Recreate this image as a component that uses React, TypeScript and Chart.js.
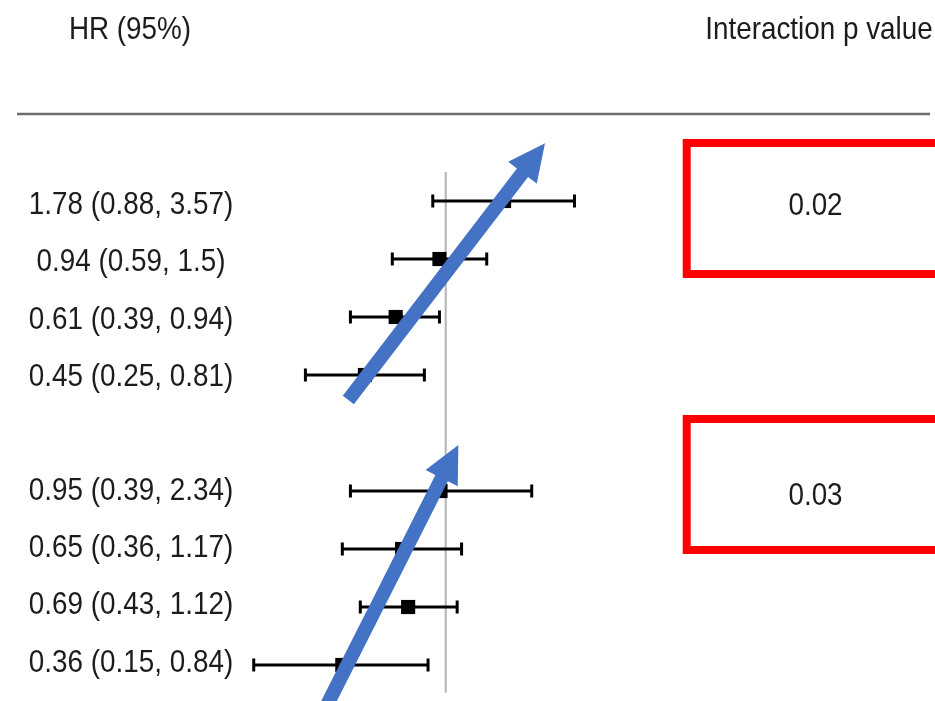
import React, { useEffect, useRef } from 'react';
import { Chart, registerables } from 'chart.js';

Chart.register(...registerables);

// ---- data ----
const rowIndex = [0, 1, 2, 3, 5, 6, 7, 8];
const hrValues = [1.78, 0.94, 0.61, 0.45, 0.95, 0.65, 0.69, 0.36];
const ciLower = [0.88, 0.59, 0.39, 0.25, 0.39, 0.36, 0.43, 0.15];
const ciUpper = [3.57, 1.5, 0.94, 0.81, 2.34, 1.17, 1.12, 0.84];
const headerLabels = ['HR (95%)', 'Interaction p value'];
const pValues = ['0.02', '0.03'];
const pValueRows = [0, 5];
const referenceHR = 1;
// trend arrows (annotation) in data coordinates: [hr, row]
const arrowTails = [[0.382, 3.43], [0.287, 8.95]];
const arrowTips = [[2.668, -0.995], [1.133, 4.207]];

const W = 935;
const H = 701;
const FONT = '32px "Liberation Sans", Arial, Helvetica, sans-serif';
const TEXT_COLOR = '#1c1c1c';

function drawText(ctx: CanvasRenderingContext2D, text: string, cx: number, baseline: number) {
  ctx.save();
  ctx.font = FONT;
  ctx.fillStyle = TEXT_COLOR;
  ctx.textAlign = 'center';
  ctx.textBaseline = 'alphabetic';
  ctx.translate(cx, baseline);
  ctx.scale(0.87, 1);
  ctx.fillText(text, 0, 0);
  ctx.restore();
}

const forestPlugin = {
  id: 'forest',
  beforeDatasetsDraw(chart: any) {
    const ctx = chart.ctx as CanvasRenderingContext2D;
    const xs = chart.scales.x;
    const ys = chart.scales.y;
    // reference line at HR = 1
    const rx = xs.getPixelForValue(referenceHR);
    ctx.save();
    ctx.strokeStyle = '#b4b4b4';
    ctx.lineWidth = 2;
    ctx.beginPath();
    ctx.moveTo(rx, ys.getPixelForValue(-0.5));
    ctx.lineTo(rx, ys.getPixelForValue(8.48));
    ctx.stroke();
    // confidence intervals
    ctx.strokeStyle = '#000';
    ctx.lineWidth = 3;
    for (let i = 0; i < rowIndex.length; i++) {
      const y = ys.getPixelForValue(rowIndex[i]);
      const x0 = xs.getPixelForValue(ciLower[i]);
      const x1 = xs.getPixelForValue(ciUpper[i]);
      ctx.beginPath();
      ctx.moveTo(x0, y);
      ctx.lineTo(x1, y);
      ctx.moveTo(x0, y - 6.5);
      ctx.lineTo(x0, y + 6.5);
      ctx.moveTo(x1, y - 6.5);
      ctx.lineTo(x1, y + 6.5);
      ctx.stroke();
    }
    ctx.restore();
  },
  afterDatasetsDraw(chart: any) {
    const ctx = chart.ctx as CanvasRenderingContext2D;
    const xs = chart.scales.x;
    const ys = chart.scales.y;
    ctx.save();
    ctx.fillStyle = '#4472C4';
    for (let a = 0; a < arrowTails.length; a++) {
      const tx = xs.getPixelForValue(arrowTails[a][0]);
      const ty = ys.getPixelForValue(arrowTails[a][1]);
      const px = xs.getPixelForValue(arrowTips[a][0]);
      const py = ys.getPixelForValue(arrowTips[a][1]);
      const dx = px - tx;
      const dy = py - ty;
      const len = Math.hypot(dx, dy);
      const ux = dx / len;
      const uy = dy / len;
      const nx = -uy;
      const ny = ux;
      const headLen = 37;
      const headHalf = 18;
      const shaftHalf = 7;
      const bx = px - ux * headLen;
      const by = py - uy * headLen;
      ctx.beginPath();
      ctx.moveTo(tx + nx * shaftHalf, ty + ny * shaftHalf);
      ctx.lineTo(bx + nx * shaftHalf, by + ny * shaftHalf);
      ctx.lineTo(bx + nx * headHalf, by + ny * headHalf);
      ctx.lineTo(px, py);
      ctx.lineTo(bx - nx * headHalf, by - ny * headHalf);
      ctx.lineTo(bx - nx * shaftHalf, by - ny * shaftHalf);
      ctx.lineTo(tx - nx * shaftHalf, ty - ny * shaftHalf);
      ctx.closePath();
      ctx.fill();
    }
    ctx.restore();
  },
  afterDraw(chart: any) {
    const ctx = chart.ctx as CanvasRenderingContext2D;
    const ys = chart.scales.y;
    // headers
    drawText(ctx, headerLabels[0], 130, 39);
    drawText(ctx, headerLabels[1], 819, 39);
    // header rule
    ctx.save();
    ctx.strokeStyle = '#6e6e6e';
    ctx.lineWidth = 2.5;
    ctx.beginPath();
    ctx.moveTo(17, 114);
    ctx.lineTo(930, 114);
    ctx.stroke();
    ctx.restore();
    // row labels
    for (let i = 0; i < rowIndex.length; i++) {
      const r = rowIndex[i];
      const y = ys.getPixelForValue(r) + 13.3 - 0.83 * r;
      drawText(ctx, `${hrValues[i]} (${ciLower[i]}, ${ciUpper[i]})`, 131, y);
    }
    // p-value boxes
    const boxTops = [143, 419];
    const boxBottoms = [274, 550];
    ctx.save();
    ctx.strokeStyle = '#ff0000';
    ctx.lineWidth = 8;
    for (let b = 0; b < pValues.length; b++) {
      ctx.strokeRect(686.7, boxTops[b], 270, boxBottoms[b] - boxTops[b]);
    }
    ctx.restore();
    for (let b = 0; b < pValues.length; b++) {
      const y = ys.getPixelForValue(pValueRows[b]) + 13.5;
      drawText(ctx, pValues[b], 815.5, y);
    }
  },
};

export default function App() {
  const canvasRef = useRef<HTMLCanvasElement | null>(null);

  useEffect(() => {
    const canvas = canvasRef.current;
    if (!canvas) return;
    const pxPerDecade = 233;
    const refPx = 445.7;
    const xMin = Math.pow(10, -refPx / pxPerDecade);
    const xMax = Math.pow(10, (W - refPx) / pxPerDecade);
    const rowTop = 201;
    const rowStep = 58;
    const yMin = -rowTop / rowStep;
    const yMax = (H - rowTop) / rowStep;

    const chart = new Chart(canvas, {
      type: 'scatter',
      data: {
        datasets: [
          {
            data: rowIndex.map((r, i) => ({ x: hrValues[i], y: r })),
            pointStyle: 'rect',
            pointRadius: 10,
            pointHoverRadius: 10,
            backgroundColor: '#000',
            borderColor: '#000',
            borderWidth: 0,
          },
        ],
      },
      options: {
        responsive: false,
        animation: false,
        devicePixelRatio: 1,
        layout: { padding: 0, autoPadding: false },
        plugins: { legend: { display: false }, tooltip: { enabled: false }, title: { display: false } },
        events: [],
        scales: {
          x: { type: 'logarithmic', min: xMin, max: xMax, display: false },
          y: { type: 'linear', min: yMin, max: yMax, reverse: true, display: false },
        },
      },
      plugins: [forestPlugin],
    });
    return () => chart.destroy();
  }, []);

  return (
    <div style={{ position: 'absolute', left: 0, top: 0, width: W, height: H, background: '#fff' }}>
      <canvas ref={canvasRef} width={W} height={H} style={{ display: 'block' }} />
    </div>
  );
}
